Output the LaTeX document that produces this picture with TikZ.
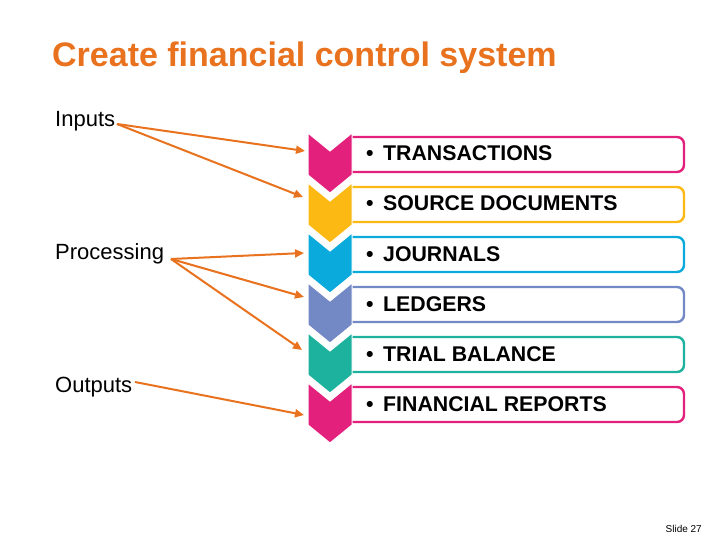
\documentclass[tikz,border=0pt]{standalone}
\usepackage{fontspec}
\setmainfont{Liberation Sans}
\usepackage{tikz}
\usetikzlibrary{arrows.meta}

\definecolor{orng}{RGB}{233,114,30}
\definecolor{cpink}{RGB}{228,32,125}
\definecolor{cyell}{RGB}{253,185,19}
\definecolor{ccyan}{RGB}{10,170,220}
\definecolor{cperi}{RGB}{115,137,198}
\definecolor{cteal}{RGB}{28,178,158}

\tikzset{
  lbl/.style={anchor=base west, inner sep=0pt, font=\fontsize{22}{24}\selectfont},
  item/.style={anchor=base west, inner sep=0pt, font=\bfseries\fontsize{21.3}{24}\selectfont},
  bar/.style={line width=2.4pt, rounded corners=7pt, fill=white},
  chev/.style={draw=white, line width=1pt},
  lnk/.style={orng, line width=2pt, -{Triangle[length=9pt,width=8pt]}},
}

\begin{document}
\begin{tikzpicture}[x=1pt,y=-1pt]
\useasboundingbox (0,0) rectangle (720,540);
\fill[white] (0,0) rectangle (720,540);

\node[anchor=base west, inner sep=0pt, text=orng, font=\bfseries\fontsize{34}{40}\selectfont] (title) at (52,67) {Create financial control system};

\node[lbl] (inp) at (55,127) {Inputs};
\node[lbl] (proc) at (55,259) {Processing};
\node[lbl] (outp) at (55,392) {Outputs};

% boxes
\draw[bar, draw=cpink] (346,137) rectangle (684,172);
\draw[bar, draw=cyell] (346,187) rectangle (684,222);
\draw[bar, draw=ccyan] (346,237) rectangle (684,272);
\draw[bar, draw=cperi] (346,287) rectangle (684,322);
\draw[bar, draw=cteal] (346,337) rectangle (684,372);
\draw[bar, draw=cpink] (346,387) rectangle (684,422);

% chevrons
\filldraw[chev, fill=cpink] (308,133) -- (330,151) -- (352,133) -- (352,175) -- (330,193) -- (308,175) -- cycle;
\filldraw[chev, fill=cyell] (308,183) -- (330,201) -- (352,183) -- (352,225) -- (330,243) -- (308,225) -- cycle;
\filldraw[chev, fill=ccyan] (308,233) -- (330,251) -- (352,233) -- (352,275) -- (330,293) -- (308,275) -- cycle;
\filldraw[chev, fill=cperi] (308,283) -- (330,301) -- (352,283) -- (352,325) -- (330,343) -- (308,325) -- cycle;
\filldraw[chev, fill=cteal] (308,333) -- (330,351) -- (352,333) -- (352,375) -- (330,393) -- (308,375) -- cycle;
\filldraw[chev, fill=cpink] (308,383) -- (330,401) -- (352,383) -- (352,425) -- (330,443) -- (308,425) -- cycle;

\node[item] (trans) at (366,161) {\makebox[17pt][l]{\textbullet}TRANSACTIONS};
\node[item] (srcdoc) at (366,211) {\makebox[17pt][l]{\textbullet}SOURCE DOCUMENTS};
\node[item] (journ) at (366,261) {\makebox[17pt][l]{\textbullet}JOURNALS};
\node[item] (ledg) at (366,311) {\makebox[17pt][l]{\textbullet}LEDGERS};
\node[item] (trial) at (366,361) {\makebox[17pt][l]{\textbullet}TRIAL BALANCE};
\node[item] (finrep) at (366,411) {\makebox[17pt][l]{\textbullet}FINANCIAL REPORTS};

\node[anchor=base east, inner sep=0pt, font=\fontsize{10}{12}\selectfont] (slide) at (702,532) {Slide 27};

% arrows
\coordinate (inp-o) at (117,124);
\coordinate (proc-o) at (171,259);
\coordinate (outp-o) at (135,382);
\coordinate (a1) at (305,151);
\coordinate (a2) at (303,197);
\coordinate (a3) at (304,253);
\coordinate (a4) at (304,297);
\coordinate (a5) at (302,350);
\coordinate (a6) at (304,415);
\draw[lnk] (inp-o) -- (a1);
\draw[lnk] (inp-o) -- (a2);
\draw[lnk] (proc-o) -- (a3);
\draw[lnk] (proc-o) -- (a4);
\draw[lnk] (proc-o) -- (a5);
\draw[lnk] (outp-o) -- (a6);
\end{tikzpicture}
\end{document}
